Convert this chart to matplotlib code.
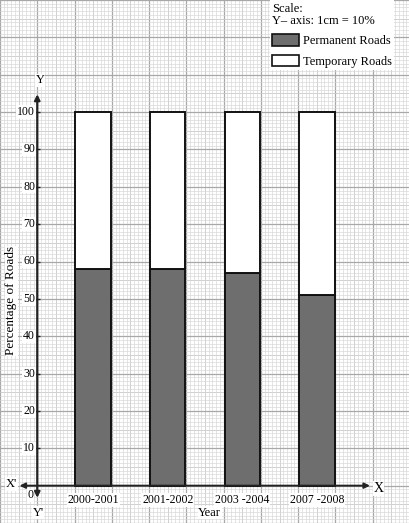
import matplotlib.pyplot as plt
from matplotlib.patches import Patch

years = ['2000-2001', '2001-2002', '2003 -2004', '2007 -2008']
permanent = [58, 58, 57, 51]
temporary = [42, 42, 43, 49]
y_ticks = [10, 20, 30, 40, 50, 60, 70, 80, 90, 100]

plt.rcParams['font.family'] = ['Liberation Serif', 'DejaVu Serif']

fig = plt.figure(figsize=(4.10, 5.23), dpi=100)
ax = fig.add_axes([0, 0, 1, 1])

# graph paper: 1 unit = 1 mm, 10 units = 1 cm
ax.set_xlim(-9.0, 99.5)
ax.set_ylim(-9.5, 128.8)
ax.set_xticks(range(-10, 101, 10))
ax.set_yticks(range(-10, 131, 10))
ax.set_xticks(range(-10, 101, 1), minor=True)
ax.set_yticks(range(-10, 131, 1), minor=True)
ax.grid(which='minor', color='#d6d6d6', lw=0.45)
ax.grid(which='major', color='#a8a8a8', lw=0.9)
for v in range(-5, 101, 10):
    ax.axvline(v, color='#c0c0c0', lw=0.6, zorder=0.5)
for v in range(-5, 131, 10):
    ax.axhline(v, color='#c0c0c0', lw=0.6, zorder=0.5)
ax.tick_params(which='both', length=0, labelbottom=False, labelleft=False)
ax.set_axisbelow(True)
for s in ax.spines.values():
    s.set_visible(False)

# bars
pos = [15 + 20 * i for i in range(len(years))]
ax.bar(pos, permanent, width=9.5, color='#6e6e6e', edgecolor='#111111', lw=1.4, zorder=3)
ax.bar(pos, temporary, bottom=permanent, width=9.5, color='white', edgecolor='#111111', lw=1.4, zorder=3)

# axes with arrows
ax.annotate('', xy=(90, 0), xytext=(-5.5, 0),
            arrowprops=dict(arrowstyle='<|-|>', color='#222222', lw=1.4, mutation_scale=8), zorder=4)
ax.annotate('', xy=(0, 105.5), xytext=(0, -4),
            arrowprops=dict(arrowstyle='<|-|>', color='#222222', lw=1.6, mutation_scale=8), zorder=4)
ax.plot([0] * len(y_ticks), y_ticks, marker='_', ms=4, ls='none', color='#222222', zorder=4)

box = dict(facecolor='white', edgecolor='none', pad=0.5)
for v in y_ticks:
    ax.text(-0.6, v, str(v), ha='right', va='center', fontsize=8.5, bbox=box, zorder=5)
for p, lab in zip(pos, years):
    ax.text(p, -2.2, lab, ha='center', va='top', fontsize=8.5, bbox=box, zorder=5)

ax.text(-1.8, -2.6, '0', ha='center', va='center', fontsize=8.5, bbox=box)
ax.text(-7.0, 0.4, "X'", ha='center', va='center', fontsize=9, bbox=box)
ax.text(91.5, -0.8, 'X', ha='center', va='center', fontsize=10, bbox=box)
ax.text(0.8, 108.5, 'Y', ha='center', va='center', fontsize=9, bbox=box)
ax.text(0.2, -7.2, "Y'", ha='center', va='center', fontsize=9, bbox=box)
ax.text(46.3, -7.2, 'Year', ha='center', va='center', fontsize=9, bbox=box)
ax.text(-7.0, 49.5, 'Percentage of Roads', rotation=90, ha='center', va='center',
        fontsize=9.5, bbox=box)

handles = [Patch(facecolor='#6e6e6e', edgecolor='#111111', lw=1.2),
           Patch(facecolor='white', edgecolor='#111111', lw=1.2)]
leg = ax.legend(handles, ['Permanent Roads', 'Temporary Roads'],
                title='Scale:\nY\u2013 axis: 1cm = 10%', title_fontsize=9, fontsize=9,
                loc='upper left', bbox_to_anchor=(0.658, 1.0), alignment='left',
                handlelength=2.1, handleheight=1.0, handletextpad=0.35,
                labelspacing=0.6, borderpad=0.2, borderaxespad=0.0, fancybox=False)
leg.get_frame().set_facecolor('white')
leg.get_frame().set_edgecolor('none')
leg.get_frame().set_alpha(1)
leg.get_title().set_linespacing(1.05)
leg.set_zorder(6)

fig.savefig('out.png', dpi=100)
